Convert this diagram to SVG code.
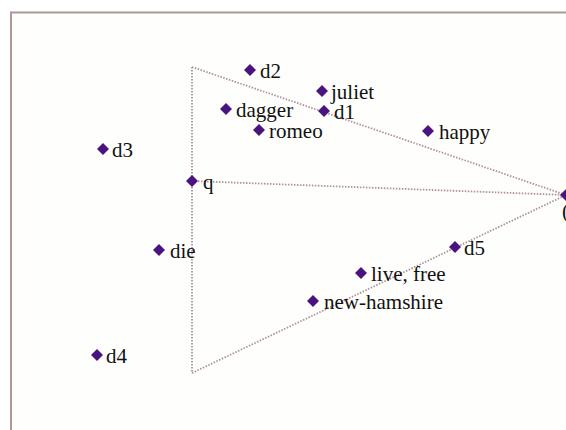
<svg xmlns="http://www.w3.org/2000/svg" width="566" height="430" viewBox="0 0 566 430">
<style>
.lbl{font-family:"Liberation Serif","Times New Roman",serif;font-size:21px;fill:#111111}
.dm{fill:#4a1480}
.ln{stroke:#ad929c;stroke-width:1.8;stroke-dasharray:1.5 1.5;fill:none}
</style>
<defs>
<path id="dia" d="M0,-6 L6,0 L0,6 L-6,0 Z"/>
</defs>
<rect x="0" y="0" width="566" height="430" fill="#ffffff"/>
<rect x="11" y="12.5" width="600" height="460" fill="#fefefc" stroke="#ae9898" stroke-width="2"/>
<g id="connectors">
<line class="ln" x1="192" y1="67" x2="192" y2="373"/>
<line class="ln" x1="192" y1="67" x2="566" y2="195"/>
<line class="ln" x1="192" y1="181" x2="566" y2="195"/>
<line class="ln" x1="192" y1="373" x2="566" y2="195"/>
</g>
<g id="d2"><use href="#dia" class="dm" x="250" y="70"/><text class="lbl" x="260" y="78">d2</text></g>
<g id="juliet"><use href="#dia" class="dm" x="322" y="91"/><text class="lbl" x="331" y="99">juliet</text></g>
<g id="dagger"><use href="#dia" class="dm" x="226" y="109"/><text class="lbl" x="236" y="117">dagger</text></g>
<g id="d1"><use href="#dia" class="dm" x="324" y="111"/><text class="lbl" x="334" y="119">d1</text></g>
<g id="romeo"><use href="#dia" class="dm" x="259" y="130"/><text class="lbl" x="269" y="138">romeo</text></g>
<g id="happy"><use href="#dia" class="dm" x="428" y="131"/><text class="lbl" x="439" y="139">happy</text></g>
<g id="d3"><use href="#dia" class="dm" x="103" y="149"/><text class="lbl" x="112" y="157">d3</text></g>
<g id="q"><use href="#dia" class="dm" x="192" y="181"/><text class="lbl" x="203" y="189">q</text></g>
<g id="die"><use href="#dia" class="dm" x="159" y="250"/><text class="lbl" x="170" y="258">die</text></g>
<g id="d5"><use href="#dia" class="dm" x="455" y="247"/><text class="lbl" x="464" y="255">d5</text></g>
<g id="live-free"><use href="#dia" class="dm" x="361" y="273"/><text class="lbl" x="371" y="281">live, free</text></g>
<g id="new-hamshire"><use href="#dia" class="dm" x="313" y="301"/><text class="lbl" x="324" y="309">new-hamshire</text></g>
<g id="d4"><use href="#dia" class="dm" x="97" y="355"/><text class="lbl" x="106" y="363">d4</text></g>
<g id="right"><use href="#dia" class="dm" x="566" y="195"/><text class="lbl" x="562" y="218">(</text></g>
</svg>
